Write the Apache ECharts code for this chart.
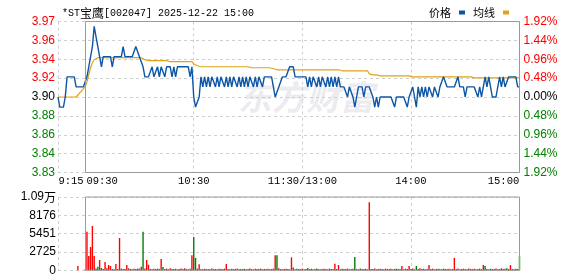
<!DOCTYPE html>
<html>
<head>
<meta charset="utf-8">
<script src="https://cdn.jsdelivr.net/npm/echarts@6/dist/echarts.min.js"></script>
<style>
html,body{margin:0;padding:0;background:#fff;}
#c{width:578px;height:276px;}
</style>
</head>
<body>
<div id="c"></div>
<script>
// ---------- DATA ----------
const stockTitle = '*ST宝鹰[002047] 2025-12-22 15:00';
const prevClose = 3.90;
const seriesNames = ['价格', '均线'];
const tickLabels = {'09:15':'9:15','09:30':'09:30','10:30':'10:30','11:30':'11:30/13:00','14:00':'14:00','15:00':'15:00'};
const gridLineTimes = ['09:15','10:30','11:30','14:00'];
const pctTicks = {min: -1.92, max: 1.92, step: 0.48};
const volAxisMax = 10901.5;

const price = [
3.90,3.89,3.89,3.89,3.90,3.92,3.92,3.92,3.92,3.92,
3.91,3.91,3.91,3.91,3.91,3.91,3.92,3.93,3.94,3.95,
3.97,3.96,3.95,3.94,3.93,3.94,3.94,3.94,3.94,3.94,
3.93,3.94,3.94,3.94,3.94,3.94,3.95,3.94,3.94,3.94,
3.94,3.94,3.94,3.95,3.95,3.94,3.94,3.93,3.92,3.92,
3.92,3.92,3.93,3.92,3.92,3.93,3.92,3.93,3.93,3.92,
3.93,3.93,3.93,3.92,3.93,3.92,3.93,3.93,3.93,3.93,
3.93,3.93,3.93,3.92,3.93,3.90,3.89,3.89,3.90,3.92,
3.91,3.92,3.91,3.92,3.91,3.92,3.92,3.91,3.92,3.91,
3.92,3.92,3.91,3.92,3.91,3.92,3.91,3.92,3.92,3.91,
3.92,3.91,3.92,3.91,3.92,3.91,3.92,3.92,3.91,3.92,
3.91,3.92,3.92,3.91,3.92,3.92,3.92,3.92,3.92,3.91,
3.90,3.90,3.91,3.91,3.92,3.92,3.92,3.92,3.93,3.93,
3.93,3.92,3.92,3.92,3.92,3.92,3.92,3.92,3.91,3.92,
3.91,3.92,3.92,3.91,3.92,3.91,3.92,3.92,3.91,3.92,
3.91,3.92,3.91,3.92,3.91,3.92,3.91,3.91,3.91,3.91,
3.90,3.91,3.91,3.90,3.89,3.90,3.91,3.91,3.91,3.90,
3.91,3.91,3.91,3.91,3.90,3.89,3.90,3.89,3.90,3.90,
3.90,3.90,3.90,3.90,3.90,3.90,3.89,3.90,3.90,3.90,
3.90,3.90,3.90,3.89,3.90,3.90,3.91,3.90,3.89,3.91,
3.90,3.91,3.90,3.91,3.90,3.91,3.91,3.90,3.91,3.91,
3.90,3.91,3.91,3.92,3.92,3.91,3.91,3.91,3.91,3.91,
3.91,3.92,3.91,3.91,3.91,3.90,3.91,3.91,3.91,3.91,
3.91,3.91,3.90,3.91,3.90,3.91,3.92,3.91,3.92,3.91,
3.90,3.90,3.90,3.91,3.92,3.91,3.92,3.91,3.91,3.92,
3.92,3.92,3.92,3.92,3.91,3.91
];

const avgPrice = [
3.900,3.900,3.900,3.900,3.900,3.900,3.900,3.900,3.900,3.900,
3.900,3.902,3.904,3.906,3.908,3.910,3.915,3.922,3.929,3.934,
3.937,3.938,3.939,3.939,3.939,3.939,3.939,3.939,3.939,3.939,
3.939,3.939,3.939,3.939,3.939,3.939,3.939,3.939,3.939,3.939,
3.939,3.939,3.939,3.939,3.939,3.939,3.939,3.938,3.937,3.937,
3.936,3.936,3.936,3.936,3.936,3.936,3.936,3.936,3.936,3.936,
3.936,3.936,3.935,3.935,3.935,3.935,3.935,3.935,3.935,3.935,
3.935,3.935,3.935,3.935,3.935,3.933,3.932,3.931,3.930,3.930,
3.930,3.930,3.930,3.930,3.930,3.930,3.930,3.930,3.930,3.930,
3.930,3.930,3.930,3.930,3.930,3.930,3.930,3.930,3.930,3.930,
3.930,3.930,3.930,3.930,3.930,3.930,3.930,3.929,3.929,3.929,
3.929,3.929,3.929,3.929,3.929,3.929,3.929,3.929,3.928,3.928,
3.928,3.927,3.927,3.927,3.927,3.927,3.927,3.927,3.927,3.927,
3.927,3.927,3.927,3.927,3.927,3.927,3.927,3.927,3.927,3.927,
3.927,3.927,3.927,3.927,3.927,3.927,3.927,3.927,3.927,3.927,
3.927,3.927,3.927,3.927,3.927,3.927,3.926,3.926,3.926,3.926,
3.926,3.926,3.926,3.926,3.926,3.926,3.926,3.926,3.926,3.926,
3.926,3.926,3.923,3.922,3.922,3.922,3.922,3.921,3.921,3.921,
3.921,3.921,3.921,3.921,3.921,3.921,3.921,3.921,3.921,3.921,
3.921,3.921,3.921,3.921,3.921,3.920,3.920,3.920,3.920,3.920,
3.920,3.920,3.920,3.920,3.920,3.920,3.920,3.920,3.920,3.920,
3.920,3.920,3.920,3.920,3.920,3.920,3.920,3.920,3.920,3.920,
3.920,3.920,3.920,3.920,3.920,3.920,3.920,3.920,3.920,3.920,
3.919,3.919,3.919,3.919,3.919,3.919,3.919,3.919,3.919,3.919,
3.919,3.919,3.919,3.919,3.919,3.919,3.919,3.919,3.919,3.919,
3.919,3.919,3.919,3.919,3.919,3.919
];

const volume = [
null,null,null,null,null,null,null,null,null,null,
null,640,null,null,null,150,5740,2130,3460,6590,
2130,250,545,1530,350,180,1240,300,790,640,
200,150,940,200,4800,250,180,200,790,300,
200,150,230,180,250,250,545,5740,250,1530,
840,200,150,230,180,250,200,1680,480,200,
250,150,300,200,180,230,150,200,250,180,
300,200,150,230,2230,4950,1850,250,890,200,
150,230,180,200,150,250,180,200,150,230,
200,180,250,940,200,150,230,180,200,250,
150,200,180,230,150,200,250,180,150,230,
200,180,250,150,200,180,230,150,200,250,
2230,2230,300,200,150,180,230,200,150,1930,
400,150,230,200,180,250,150,200,340,180,
230,150,200,250,180,150,200,230,180,150,
250,200,180,980,200,790,150,230,200,180,
250,150,200,230,1980,200,150,250,180,200,
230,150,10120,200,180,250,150,200,230,180,
150,250,200,180,230,150,200,250,180,200,
640,150,230,200,640,180,250,150,640,200,
300,180,230,150,200,790,180,250,150,200,
230,180,150,250,200,180,230,150,200,1850,
180,250,150,200,230,180,150,250,200,180,
230,150,200,250,180,790,640,200,150,230,
180,200,250,150,200,300,180,230,300,200,
790,180,150,230,200,2150
];

// 1 = up (red), 0 = down (green)
const volDir = (
'111111111111111' +
'1111110010' + '1111111111' + '1111111101' + '0101111111' + '1110111101' +
'1111011111' + '0011111101' + '1111101111' + '1111111101' + '1101111111' +
'1111110111' + '1111111011' + '1110111101' + '1111011111' + '1111111110' +
'1101111110' + '1111011111' + '1101111111' + '1110111111' + '1110101111' +
'1111111011' + '1111110111' + '1011011111' + '1110111111' + '0'
).split('');

// category axis: minutes 9:15-9:29, 9:30-11:30, 13:01-15:00
const times = [];
function pushRange(h0, m0, h1, m1) {
  for (let t = h0 * 60 + m0; t <= h1 * 60 + m1; t++) {
    const h = Math.floor(t / 60), m = t % 60;
    times.push(String(h).padStart(2, '0') + ':' + String(m).padStart(2, '0'));
  }
}
pushRange(9, 15, 9, 29);
pushRange(9, 30, 11, 30);
pushRange(13, 1, 15, 0);

// ---------- CHART ----------
const RED = '#ff0000', GREEN = '#008000', BLACK = '#000000';
const BLUE = '#0d56a6', GOLD = '#e0a21a';
const GRIDC = '#cfcfcf', BORDERC = '#9a9a9a';
const MONO = '"Liberation Mono", "DejaVu Sans Mono", monospace';
const SANS = '"Liberation Sans", Arial, sans-serif';
const CJK = '"Noto Sans CJK SC", sans-serif';

const toPct = p => p == null ? null : (p - prevClose) / prevClose * 100;
const isTickLabel = (i, v) => Object.prototype.hasOwnProperty.call(tickLabels, v);
const isGridLine = (i, v) => gridLineTimes.indexOf(v) >= 0;

const chart = echarts.init(document.getElementById('c'), null, {renderer: 'canvas'});

const L = 58, R = 58.5, BL = 85.5;
const pTop = 21.5, pH = 151, vTop = 197, vH = 73.3;

const dashed = {show: true, lineStyle: {color: GRIDC, type: [3, 3], width: 1}};

chart.setOption({
  animation: false,
  title: {
    left: 57, top: 2,
    text: stockTitle.replace('宝鹰', '{c|宝鹰}'),
    textStyle: {
      fontFamily: MONO, fontSize: 10, fontWeight: 'normal', color: '#000',
      rich: {c: {fontFamily: CJK, fontSize: 12, color: '#000'}}
    }
  },
  legend: {
    right: 64, top: 2,
    data: seriesNames,
    align: 'right',
    icon: 'rect',
    itemWidth: 6, itemHeight: 4, itemGap: 8,
    textStyle: {fontFamily: CJK, fontSize: 11, color: '#000', padding: [0, 3, 0, 0]}
  },
  graphic: [{
    type: 'text', left: 238, top: 80, z: -1, silent: true,
    style: {text: '东方财富', font: 'italic bold 34px "Noto Sans CJK SC"', fill: '#ececf0'}
  }],
  grid: [
    {left: L, right: R, top: pTop, height: pH, show: false, outerBoundsMode: 'none'},
    {left: BL, right: R, top: pTop, height: pH, show: true, borderColor: BORDERC, borderWidth: 1, backgroundColor: 'transparent', z: 5, outerBoundsMode: 'none'},
    {left: L, right: R, top: vTop, height: vH, show: false, outerBoundsMode: 'none'},
    {left: BL, right: R, top: vTop, height: vH, show: true, borderColor: BORDERC, borderWidth: 1, backgroundColor: 'transparent', z: 5, outerBoundsMode: 'none'}
  ],
  xAxis: [
    {
      gridIndex: 0, type: 'category', data: times, boundaryGap: false,
      axisLine: {show: false}, axisTick: {show: false},
      axisLabel: {
        interval: isTickLabel, margin: 3, hideOverlap: false,
        fontFamily: MONO, fontSize: 10.5, color: '#000',
        formatter: v => {
          const t = tickLabels[v];
          if (!t) return '';
          if (v === '09:15') return '{l|' + t + '}';
          if (v === '09:30') return '{m|' + t + '}';
          if (v === '15:00') return '{r|' + t + '}';
          return '{c|' + t + '}';
        },
        rich: {
          l: {fontFamily: MONO, fontSize: 10.5, padding: [0, 0, 0, 26]},
          m: {fontFamily: MONO, fontSize: 10.5, padding: [0, 0, 0, 34]},
          r: {fontFamily: MONO, fontSize: 10.5, padding: [0, 32, 0, 0]},
          c: {fontFamily: MONO, fontSize: 10.5}
        }
      },
      splitLine: Object.assign({interval: isGridLine}, dashed)
    },
    {gridIndex: 1, type: 'value', show: false, min: 0, max: 1},
    {
      gridIndex: 2, type: 'category', data: times, boundaryGap: false,
      axisLine: {show: false}, axisTick: {show: false}, axisLabel: {show: false},
      splitLine: Object.assign({interval: isGridLine}, dashed)
    },
    {gridIndex: 3, type: 'value', show: false, min: 0, max: 1}
  ],
  yAxis: [
    {
      gridIndex: 0, type: 'value', position: 'left',
      min: pctTicks.min, max: pctTicks.max, interval: pctTicks.step,
      axisLine: {show: false}, axisTick: {show: false},
      splitLine: dashed,
      axisLabel: {
        margin: 3, fontFamily: SANS, fontSize: 12, showMinLabel: true, showMaxLabel: true,
        formatter: v => (prevClose * (1 + v / 100)).toFixed(2),
        color: v => (Number(v) > 1e-6 ? RED : (Number(v) < -1e-6 ? GREEN : BLACK))
      }
    },
    {
      gridIndex: 0, type: 'value', position: 'right',
      min: pctTicks.min, max: pctTicks.max, interval: pctTicks.step,
      axisLine: {show: false}, axisTick: {show: false}, splitLine: {show: false},
      axisLabel: {
        margin: 4, fontFamily: SANS, fontSize: 12, showMinLabel: true, showMaxLabel: true,
        formatter: v => Math.abs(v).toFixed(2) + '%',
        color: v => (Number(v) > 1e-6 ? RED : (Number(v) < -1e-6 ? GREEN : BLACK))
      }
    },
    {gridIndex: 1, type: 'value', show: false, min: 0, max: 1},
    {
      gridIndex: 2, type: 'value', min: 0, max: volAxisMax, interval: volAxisMax / 4,
      axisLine: {show: false}, axisTick: {show: false},
      splitLine: dashed,
      axisLabel: {
        margin: 2, fontFamily: SANS, fontSize: 12, color: '#000', showMinLabel: true, showMaxLabel: true,
        formatter: v => v >= 10000 ? '{n|' + (v / 10000).toFixed(2) + '}{w|万}' : String(Math.round(v)),
        rich: {n: {fontFamily: SANS, fontSize: 12}, w: {fontFamily: CJK, fontSize: 12}}
      }
    },
    {gridIndex: 3, type: 'value', show: false, min: 0, max: 1}
  ],
  series: [
    {
      name: seriesNames[1], type: 'line', xAxisIndex: 0, yAxisIndex: 0,
      data: avgPrice.map(toPct), showSymbol: false, symbol: 'none',
      lineStyle: {color: GOLD, width: 1.2}, itemStyle: {color: GOLD}, z: 3
    },
    {
      name: seriesNames[0], type: 'line', xAxisIndex: 0, yAxisIndex: 0,
      data: price.map(toPct), showSymbol: false, symbol: 'none',
      lineStyle: {color: BLUE, width: 1.4}, itemStyle: {color: BLUE}, z: 4
    },
    {
      name: '成交量', type: 'bar', xAxisIndex: 2, yAxisIndex: 3,
      barWidth: 1.4,
      data: volume.map((v, i) => v == null ? null : {value: v, itemStyle: {color: volDir[i] === '1' ? RED : GREEN}}),
      z: 3
    }
  ]
});
</script>
</body>
</html>
